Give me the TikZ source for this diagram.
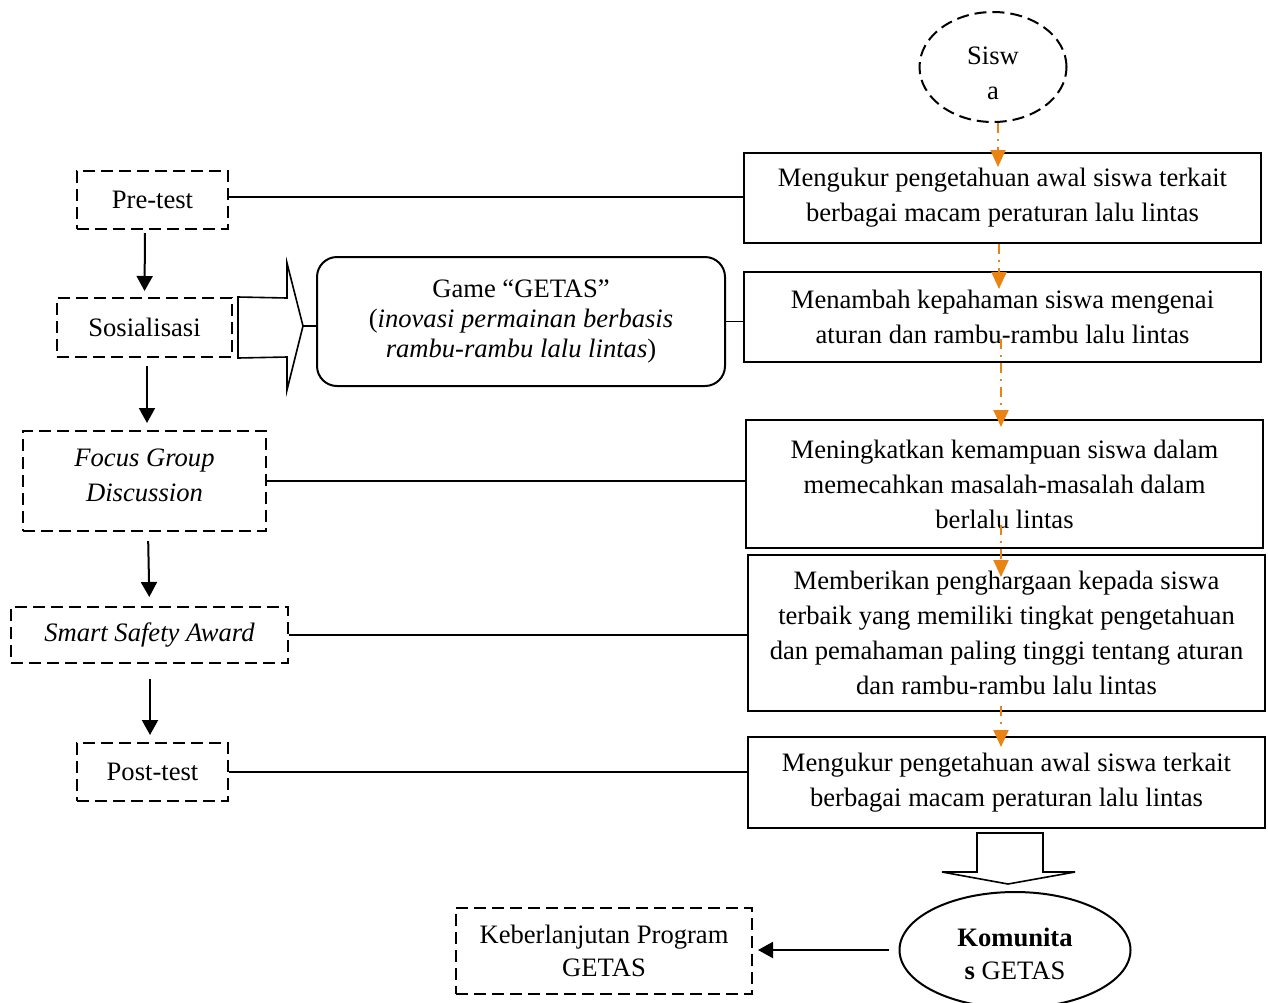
\documentclass[tikz,border=0pt]{standalone}
\usepackage{fontspec}
\setmainfont{Liberation Serif}
\usetikzlibrary{arrows.meta, shapes.geometric}
\definecolor{naranja}{RGB}{235,130,20}

\begin{document}
\begin{tikzpicture}[x=0.5pt, y=-0.5pt, line width=1pt,
  font=\fontsize{13.3pt}{17.5pt}\selectfont,
  caja/.style={rectangle, draw, inner sep=0pt, align=center, minimum width=258.5pt},
  cajad/.style={rectangle, draw, dash pattern=on 6pt off 3pt, inner sep=0pt, align=center},
  flecha/.style={-{Triangle[length=7.5pt,width=8pt]}, line width=1pt},
  naranjas/.style={-{Triangle[length=8.5pt,width=7.5pt]}, draw=naranja, line width=1pt,
    dash pattern=on 5pt off 3pt on 1pt off 3pt},
  linea/.style={line width=0.8pt}]
\useasboundingbox (0,0) rectangle (1268,1002);
% Nodos
\node [draw, ellipse, dash pattern=on 6pt off 3pt, minimum width=73.5pt, minimum height=55pt, inner sep=0pt,
  label={[align=center, yshift=-3pt]center:{Sisw\\a}}] (sis) at (993,67) {};

\node [caja, minimum height=45pt] (b1) at (1002.5,198) {Mengukur pengetahuan awal siswa terkait\\berbagai macam peraturan lalu lintas};
\node [caja, minimum height=45pt] (b2) at (1002.5,317) {Menambah kepahaman siswa mengenai\\aturan dan rambu-rambu lalu lintas};
\node [caja, minimum height=64pt] (b3) at (1004.5,484) {Meningkatkan kemampuan siswa dalam\\memecahkan masalah-masalah dalam\\berlalu lintas};
\node [caja, minimum height=78pt] (b4) at (1006.5,633) {Memberikan penghargaan kepada siswa\\terbaik yang memiliki tingkat pengetahuan\\dan pemahaman paling tinggi tentang aturan\\dan rambu-rambu lalu lintas};
\node [caja, minimum height=45.5pt] (b5) at (1006.5,782.5) {Mengukur pengetahuan awal siswa terkait\\berbagai macam peraturan lalu lintas};

\node [cajad, minimum width=75.5pt, minimum height=29pt] (pre) at (152.5,200) {Pre-test};
\node [cajad, minimum width=87.5pt, minimum height=29.5pt] (sos) at (144.5,327.5) {Sosialisasi};
\node [cajad, minimum width=121.5pt, minimum height=50pt,
  label={[align=center, yshift=3pt]center:{\textit{Focus Group}\\\textit{Discussion}}}] (fgd) at (144.5,481) {};
\node [cajad, minimum width=138.5pt, minimum height=28pt] (ssa) at (149.5,635) {\textit{Smart Safety Award}};
\node [cajad, minimum width=75.5pt, minimum height=29pt] (post) at (152.5,772) {Post-test};

\node [draw, rounded corners=10pt, minimum width=204pt, minimum height=64.5pt, inner sep=0pt, align=center, font=\fontsize{13.3pt}{15pt}\selectfont] (game) at (521,321.5) {Game “GETAS”\\(\textit{inovasi permainan berbasis}\\\textit{rambu-rambu lalu lintas})};

\node [cajad, minimum width=148pt, minimum height=43pt, font=\fontsize{13.3pt}{16.5pt}\selectfont] (keb) at (604,951) {Keberlanjutan Program\\GETAS};
\node [draw, ellipse, minimum width=115.5pt, minimum height=58pt, inner sep=0pt,
  label={[align=center, yshift=-2pt, font=\fontsize{13.3pt}{16.5pt}\selectfont]center:{\textbf{Komunita}\\\textbf{s} GETAS}}] (kom) at (1015,950) {};

% Flechas
\draw [flecha, shorten <=1.5pt, shorten >=3pt] ([xshift=-3.75pt]pre.south) -- (sos.north);
\draw [flecha, shorten <=4pt, shorten >=3.5pt] ([xshift=1.25pt]sos.south) -- ([xshift=1.25pt]fgd.north);
\draw [flecha, shorten <=4.5pt, shorten >=4.5pt] ([xshift=1.75pt]fgd.south) -- (ssa.north);
\draw [flecha, shorten <=7.5pt, shorten >=3.5pt] ([xshift=0.25pt]ssa.south) -- ([xshift=-1.25pt]post.north);
\draw [flecha, shorten <=5pt, shorten >=2.5pt] (kom.west) -- (kom.west -| keb.east);

% Lineas
\draw [linea] ([yshift=1.5pt]pre.east) -- ([yshift=1.5pt]pre.east -| b1.west);
\draw [linea] (fgd.east) -- (fgd.east -| b3.west);
\draw [linea] (ssa.east) -- (ssa.east -| b4.west);
\draw [linea] (post.east) -- (post.east -| b5.west);
\draw [linea] (game.east) -- (game.east -| b2.west);

% Flechas de bloque
\draw [linea] ([xshift=2.5pt]sos.north east) -- (287,298) -- (287,263) -- (303,326) -- (287,390) -- (287,357) -- ([xshift=2.5pt]sos.south east) -- cycle;
\coordinate (punta) at (303,326);
\draw [linea] (punta) -- (punta -| game.west);
\draw [linea] (977,833) -- (977,872) -- (942,872) -- (1008,884) -- (1075,872) -- (1043,872) -- (1043,833) -- cycle;

% Naranjas
\draw [naranjas] ([xshift=2.5pt]sis.south) -- ([xshift=-2.25pt,yshift=-7.5pt]b1.north);
\draw [naranjas] ([xshift=-1.75pt]b1.south) -- ([xshift=-1.75pt,yshift=-9pt]b2.north);
\draw [naranjas] ([xshift=-0.75pt,yshift=12pt]b2.south) -- ([xshift=-1.75pt,yshift=-4pt]b3.north);
\draw [naranjas] ([xshift=-1.75pt,yshift=12pt]b3.south) -- ([xshift=-2.75pt,yshift=-11.5pt]b4.north);
\draw [naranjas] ([xshift=-2.75pt,yshift=3pt]b4.south) -- ([xshift=-2.75pt,yshift=-5.5pt]b5.north);

\end{tikzpicture}
\end{document}
